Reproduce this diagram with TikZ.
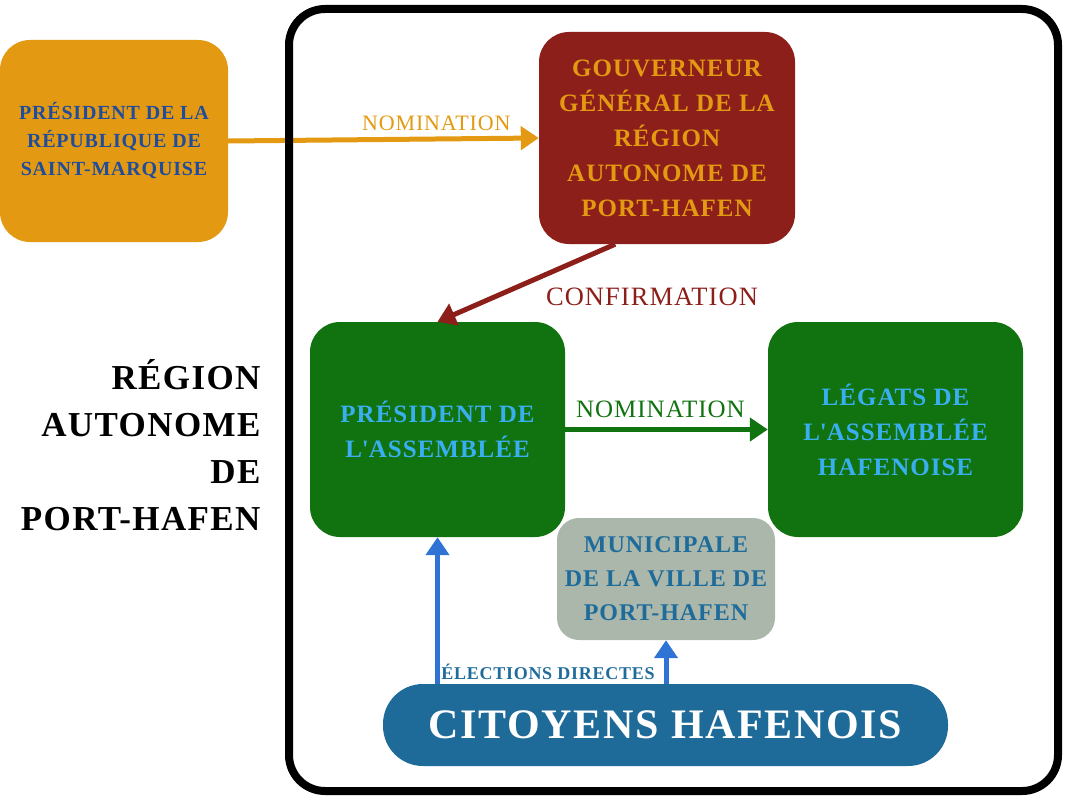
\documentclass[tikz,border=0pt]{standalone}
\usepackage{fontspec}
\setmainfont{Liberation Serif}[LetterSpace=4]
\usetikzlibrary{arrows.meta,positioning}

\definecolor{gold}{RGB}{227,154,18}
\definecolor{royal}{RGB}{32,76,156}
\definecolor{wine}{RGB}{140,31,25}
\definecolor{forest}{RGB}{17,114,16}
\definecolor{sky}{RGB}{58,175,239}
\definecolor{sage}{RGB}{170,183,170}
\definecolor{steel}{RGB}{31,108,155}
\definecolor{navy}{RGB}{30,106,152}
\definecolor{azure}{RGB}{47,116,212}

\begin{document}
\begin{tikzpicture}[
  x=1pt, y=-1pt,
  box/.style={rounded corners=30pt,align=center,inner sep=0pt,font=\bfseries\fontsize{25}{35}\selectfont},
  link/.style={line width=5pt,-{Triangle[length=18pt,width=23pt]}},
  lab/.style={inner sep=3pt,font=\fontsize{22}{24}\selectfont}
]
  \useasboundingbox (0,0) rectangle (1067,800);

  \node[box,fill=gold,text=royal,minimum width=228pt,minimum height=202pt,
        font=\bfseries\fontsize{20}{28}\selectfont] (pres) at (114,141)
    {PRÉSIDENT DE LA\\RÉPUBLIQUE DE\\SAINT-MARQUISE};
  \node[box,fill=wine,text=gold,minimum width=256pt,minimum height=212pt] (gov) at (667,138)
    {GOUVERNEUR\\GÉNÉRAL DE LA\\RÉGION\\AUTONOME DE\\PORT-HAFEN};
  \node[box,fill=forest,text=sky,minimum width=255pt,minimum height=215pt] (presa) at (437.5,429.5)
    {PRÉSIDENT DE\\L\textquotesingle ASSEMBLÉE};
  \node[box,fill=forest,text=sky,minimum width=255pt,minimum height=215pt] (legats) at (895.5,429.5)
    {LÉGATS DE\\L\textquotesingle ASSEMBLÉE\\HAFENOISE};
  \node[box,rounded corners=22pt,fill=sage,text=steel,minimum width=218pt,minimum height=122pt,
        font=\bfseries\fontsize{24}{34}\selectfont] (muni) at (666,579)
    {MUNICIPALE\\DE LA VILLE DE\\PORT-HAFEN};
  \node[box,rounded corners=40pt,fill=navy,text=white,minimum width=565pt,minimum height=82pt,
        font=\bfseries\fontsize{42}{46}\selectfont] (citizens) at (665.5,725)
    {CITOYENS HAFENOIS};

  \node[align=right,anchor=east,font=\bfseries\fontsize{35}{47}\selectfont] (title) at (264,445)
    {RÉGION\\AUTONOME\\DE\\PORT-HAFEN};

  % nomination from outside the region
  \draw[link,gold] (pres.east) -- node[lab,text=gold,above,pos=0.67,yshift=3pt] {NOMINATION} (gov.west);

  \node[draw,line width=8pt,rounded corners=36pt,minimum width=769pt,minimum height=782pt] (region) at (673.5,400) {};

  \draw[link,wine] (gov.244) -- (presa.north);
  \node[lab,text=wine,font=\fontsize{26.5}{28}\selectfont] (confirm) at (652,297) {CONFIRMATION};

  \draw[link,forest] (presa.east) -- node[lab,text=forest,above,pos=0.47,yshift=6pt,font=\fontsize{25}{27}\selectfont] {NOMINATION} (legats.west);

  \draw[link,azure] (presa.south |- citizens.north) -- (presa.south);
  \draw[link,azure] (muni.south |- citizens.north) -- (muni.south);
  \node[lab,text=steel,font=\bfseries\fontsize{18}{20}\selectfont] (vote) at (548,672) {ÉLECTIONS DIRECTES};
\end{tikzpicture}
\end{document}
